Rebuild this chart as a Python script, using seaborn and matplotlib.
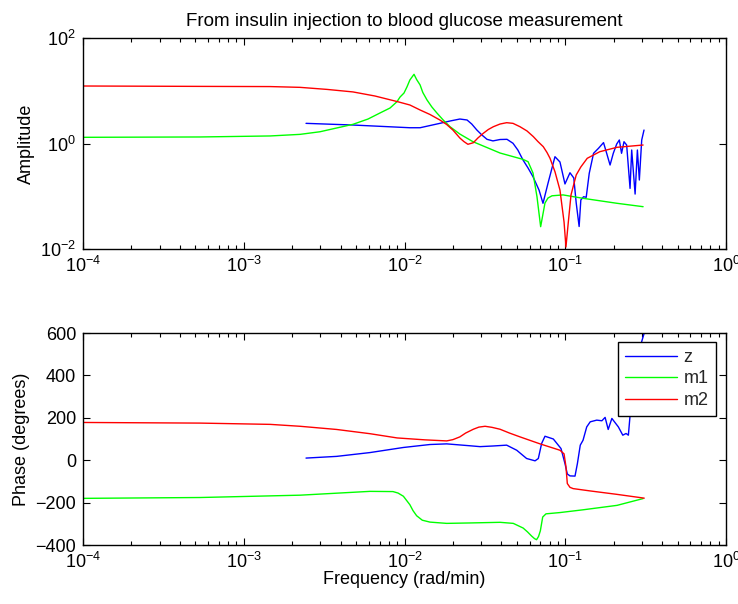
import matplotlib
matplotlib.use("Agg")
import numpy as np
import pandas as pd
import matplotlib.pyplot as plt
import seaborn as sns
from matplotlib.ticker import FixedLocator, FixedFormatter, LogLocator, NullLocator, NullFormatter

sns.set_theme(style="white")
plt.rcParams["font.family"] = ["Liberation Sans", "DejaVu Sans"]
plt.rcParams["mathtext.fontset"] = "custom"
plt.rcParams["mathtext.rm"] = "Liberation Sans"
plt.rcParams["mathtext.it"] = "Liberation Sans:italic"
plt.rcParams["mathtext.bf"] = "Liberation Sans:bold"

# ---- series ----
series_names = ["z", "m1", "m2"]
series_colors = ["#0000ff", "#00ff00", "#ff0000"]

# amplitude: measured response z
freq_z_amp = [2.44e-3, 4.78e-3, 1.08e-2, 1.25e-2, 1.66e-2, 1.92e-2, 2.21e-2, 2.45e-2,
              2.62e-2, 2.82e-2, 3.03e-2, 3.26e-2, 3.55e-2, 3.93e-2, 4.34e-2, 4.73e-2,
              5.07e-2, 5.46e-2, 5.87e-2, 6.30e-2, 6.87e-2, 7.27e-2,
              7.81e-2, 8.63e-2, 9.27e-2, 9.96e-2, 1.07e-1, 1.13e-1, 1.17e-1, 1.22e-1,
              1.25e-1, 1.30e-1, 1.35e-1, 1.41e-1, 1.50e-1, 1.61e-1, 1.73e-1, 1.81e-1,
              1.90e-1, 1.99e-1, 2.09e-1, 2.17e-1, 2.24e-1, 2.32e-1, 2.41e-1, 2.53e-1,
              2.59e-1, 2.72e-1, 2.81e-1, 2.89e-1, 2.99e-1, 3.09e-1]
amp_z = [2.41, 2.24, 1.99, 1.99, 2.41, 2.67, 2.91, 2.79,
         2.34, 1.80, 1.45, 1.20, 1.12, 1.19, 1.20, 1.01,
         0.753, 0.487, 0.343, 0.235, 0.131, 0.0735,
         0.176, 0.562, 0.446, 0.171, 0.279, 0.222, 0.0745, 0.0267,
         0.085, 0.098, 0.0955, 0.272, 0.652, 0.811, 1.04, 0.652,
         0.391, 0.652, 0.978, 1.165, 0.652, 1.08, 0.937, 0.141,
         0.753, 0.110, 0.753, 0.203, 1.165, 1.80]

# amplitude: model m1
freq_m1_amp = [1e-4, 5.35e-4, 1.46e-3, 2.24e-3, 2.98e-3, 4.78e-3, 5.93e-3, 7.04e-3,
               8.13e-3, 8.98e-3, 9.38e-3, 9.93e-3, 1.037e-2, 1.08e-2, 1.146e-2, 1.19e-2,
               1.25e-2, 1.30e-2, 1.38e-2, 1.48e-2, 1.59e-2, 1.74e-2, 1.92e-2, 2.21e-2,
               2.67e-2, 3.93e-2, 5.46e-2, 5.87e-2, 6.30e-2, 6.67e-2, 7.03e-2, 7.48e-2,
               7.81e-2, 8.27e-2, 9.69e-2, 1.29e-1, 2.10e-1, 3.05e-1]
amp_m1 = [1.31, 1.33, 1.39, 1.49, 1.67, 2.31, 2.91, 3.79,
          4.71, 6.2, 7.6, 9.06, 11.9, 16.0, 20.5, 16.3,
          12.9, 9.27, 6.7, 4.92, 3.79, 2.79, 2.08, 1.51,
          1.08, 0.66, 0.50, 0.452, 0.276, 0.098, 0.0265, 0.0745,
          0.0926, 0.102, 0.106, 0.0914, 0.0735, 0.0634]

# amplitude: model m2
freq_m2_amp = [1e-4, 5.35e-4, 1.46e-3, 2.24e-3, 3.30e-3, 4.78e-3, 6.55e-3, 8.98e-3,
               1.08e-2, 1.25e-2, 1.44e-2, 1.66e-2, 1.83e-2, 2.0e-2, 2.21e-2, 2.34e-2,
               2.48e-2, 2.68e-2, 2.86e-2, 3.09e-2, 3.32e-2, 3.57e-2, 3.93e-2, 4.32e-2,
               4.73e-2, 5.23e-2, 5.78e-2, 6.33e-2, 6.76e-2, 7.30e-2, 7.70e-2, 8.04e-2,
               8.63e-2, 9.27e-2, 9.83e-2, 1.01e-1, 1.045e-1, 1.086e-1, 1.17e-1, 1.25e-1,
               1.37e-1, 1.64e-1, 2.10e-1, 3.05e-1]
amp_m2 = [12.3, 12.1, 12.0, 11.6, 10.6, 9.5, 7.95, 6.25,
          5.37, 4.32, 3.55, 2.79, 2.29, 1.80, 1.27, 1.09,
          0.966, 1.035, 1.27, 1.56, 1.84, 2.08, 2.34, 2.48,
          2.41, 2.08, 1.73, 1.35, 1.09, 0.870, 0.675, 0.524,
          0.292, 0.131, 0.0325, 0.0109, 0.0325, 0.106, 0.253, 0.359,
          0.524, 0.699, 0.847, 0.936]

# phase: z
freq_z_ph = [2.44e-3, 3.78e-3, 6.10e-3, 9.84e-3, 1.44e-2, 1.83e-2, 2.56e-2, 2.95e-2,
             3.55e-2, 4.32e-2, 4.99e-2, 5.75e-2, 6.49e-2, 6.80e-2, 7.13e-2, 7.48e-2,
             8.43e-2, 9.41e-2, 9.96e-2, 1.03e-1, 1.07e-1, 1.15e-1, 1.19e-1, 1.24e-1,
             1.29e-1, 1.36e-1, 1.43e-1, 1.57e-1, 1.69e-1, 1.77e-1, 1.85e-1, 1.95e-1,
             2.14e-1, 2.28e-1, 2.39e-1, 2.47e-1, 2.53e-1, 2.64e-1, 2.84e-1, 2.99e-1,
             3.10e-1]
phase_z = [10, 18, 36, 60, 74, 77, 68, 64,
           67, 71, 47, 8, -3, 8, 79, 113,
           100, 55, -16, -65, -74, -75, -16, 71,
           94, 157, 181, 189, 186, 202, 145, 197,
           157, 118, 126, 118, 210, 320, 450, 560,
           600]

# phase: m1
freq_m1_ph = [1e-4, 5.35e-4, 2.24e-3, 6.10e-3, 8.48e-3, 9.12e-3, 9.84e-3, 1.08e-2,
              1.13e-2, 1.19e-2, 1.29e-2, 1.44e-2, 1.83e-2, 2.56e-2, 3.93e-2, 4.75e-2,
              5.47e-2, 5.82e-2, 6.18e-2, 6.44e-2, 6.63e-2, 6.82e-2, 7.0e-2, 7.24e-2,
              7.59e-2, 9.27e-2, 1.29e-1, 2.10e-1, 3.05e-1]
phase_m1 = [-180, -176, -165, -147, -148, -155, -170, -210,
            -238, -262, -283, -292, -298, -296, -293, -298,
            -320, -338, -358, -370, -375, -360, -333, -268,
            -253, -247, -234, -213, -181]

# phase: m2
freq_m2_ph = [1e-4, 5.35e-4, 1.46e-3, 2.24e-3, 3.78e-3, 6.10e-3, 9.0e-3, 1.34e-2,
              1.83e-2, 2.0e-2, 2.21e-2, 2.4e-2, 2.68e-2, 2.9e-2, 3.17e-2, 3.5e-2,
              3.93e-2, 4.5e-2, 5.23e-2, 6.97e-2, 9.27e-2, 9.83e-2, 1.01e-1, 1.03e-1,
              1.07e-1, 1.12e-1, 1.43e-1, 2.09e-1, 3.10e-1]
phase_m2 = [178, 175, 169, 160, 145, 125, 105, 96,
            91, 97, 110, 128, 146, 156, 160, 155,
            146, 128, 110, 77, 47, 30, -30, -110,
            -128, -134, -145, -161, -179]

x_ticks = [1e-4, 1e-3, 1e-2, 1e-1, 1e0]
x_tick_labels = [r"$\mathregular{10^{-4}}$", r"$\mathregular{10^{-3}}$",
                 r"$\mathregular{10^{-2}}$", r"$\mathregular{10^{-1}}$",
                 r"$\mathregular{10^{0}}$"]
amp_ticks = [1e-2, 1e0, 1e2]
amp_tick_labels = [r"$\mathregular{10^{-2}}$", r"$\mathregular{10^{0}}$",
                   r"$\mathregular{10^{2}}$"]
phase_ticks = [-400, -200, 0, 200, 400, 600]


def long_frame(pieces):
    frames = [pd.DataFrame({"freq": f, "value": v, "series": name})
              for name, f, v in pieces]
    return pd.concat(frames, ignore_index=True)


amp_df = long_frame([("z", freq_z_amp, amp_z),
                     ("m1", freq_m1_amp, amp_m1),
                     ("m2", freq_m2_amp, amp_m2)])
phase_df = long_frame([("z", freq_z_ph, phase_z),
                       ("m1", freq_m1_ph, phase_m1),
                       ("m2", freq_m2_ph, phase_m2)])
palette = dict(zip(series_names, series_colors))

W, H = 738, 604
fig = plt.figure(figsize=(W / 100, H / 100), dpi=100)
fig.patch.set_facecolor("white")
ax1 = fig.add_axes([83 / W, 1 - 249 / H, 643 / W, 211 / H])
ax2 = fig.add_axes([83 / W, 1 - 545 / H, 643 / W, 212 / H])

FS = 13

sns.lineplot(data=amp_df, x="freq", y="value", hue="series", hue_order=series_names,
             palette=palette, estimator=None, sort=False, linewidth=1.0,
             ax=ax1, legend=False)
sns.lineplot(data=phase_df, x="freq", y="value", hue="series", hue_order=series_names,
             palette=palette, estimator=None, sort=False, linewidth=1.0,
             ax=ax2, legend=True)

for ax in (ax1, ax2):
    ax.set_xscale("log")
    ax.set_xlim(1e-4, 1e0)
    ax.xaxis.set_major_locator(FixedLocator(x_ticks))
    ax.xaxis.set_major_formatter(FixedFormatter(x_tick_labels))
    ax.xaxis.set_minor_locator(LogLocator(base=10, subs=np.arange(2, 10)))
    ax.xaxis.set_minor_formatter(NullFormatter())
    ax.set_facecolor("white")
    for sp in ax.spines.values():
        sp.set_color("black")
        sp.set_linewidth(1.0)
        sp.set_visible(True)
    ax.tick_params(which="both", direction="in", top=True, right=True,
                   bottom=True, left=True, color="black", width=0.8,
                   labelsize=FS, labelcolor="black")
    ax.tick_params(which="major", length=5, pad=5)
    ax.tick_params(which="minor", length=3)
    ax.grid(False)

ax1.set_yscale("log")
ax1.set_ylim(1e-2, 1e2)
ax1.yaxis.set_major_locator(FixedLocator(amp_ticks))
ax1.yaxis.set_major_formatter(FixedFormatter(amp_tick_labels))
ax1.yaxis.set_minor_locator(NullLocator())
ax1.set_xlabel("")
ax1.set_ylabel("Amplitude", fontsize=FS, color="black")
ax1.yaxis.set_label_coords(-0.074, 0.5)
ax1.set_title("From insulin injection to blood glucose measurement",
              fontsize=13.5, color="black", pad=9)

ax2.set_ylim(-400, 600)
ax2.yaxis.set_major_locator(FixedLocator(phase_ticks))
ax2.yaxis.set_minor_locator(NullLocator())
ax2.set_ylabel("Phase (degrees)", fontsize=FS, color="black")
ax2.yaxis.set_label_coords(-0.083, 0.5)
ax2.set_xlabel("Frequency (rad/min)", fontsize=FS, color="black")
ax2.xaxis.set_label_coords(0.5, -0.125)

handles, labels = ax2.get_legend_handles_labels()
leg = ax2.legend(handles, labels, loc="upper right", bbox_to_anchor=(0.9844, 0.959),
                 borderaxespad=0, fontsize=FS, frameon=True, fancybox=False,
                 edgecolor="black", framealpha=1, handlelength=2.9,
                 handletextpad=0.35, labelspacing=0.25, borderpad=0.4)
leg.get_frame().set_linewidth(1.0)

fig.savefig("out.png", dpi=100, facecolor="white")
